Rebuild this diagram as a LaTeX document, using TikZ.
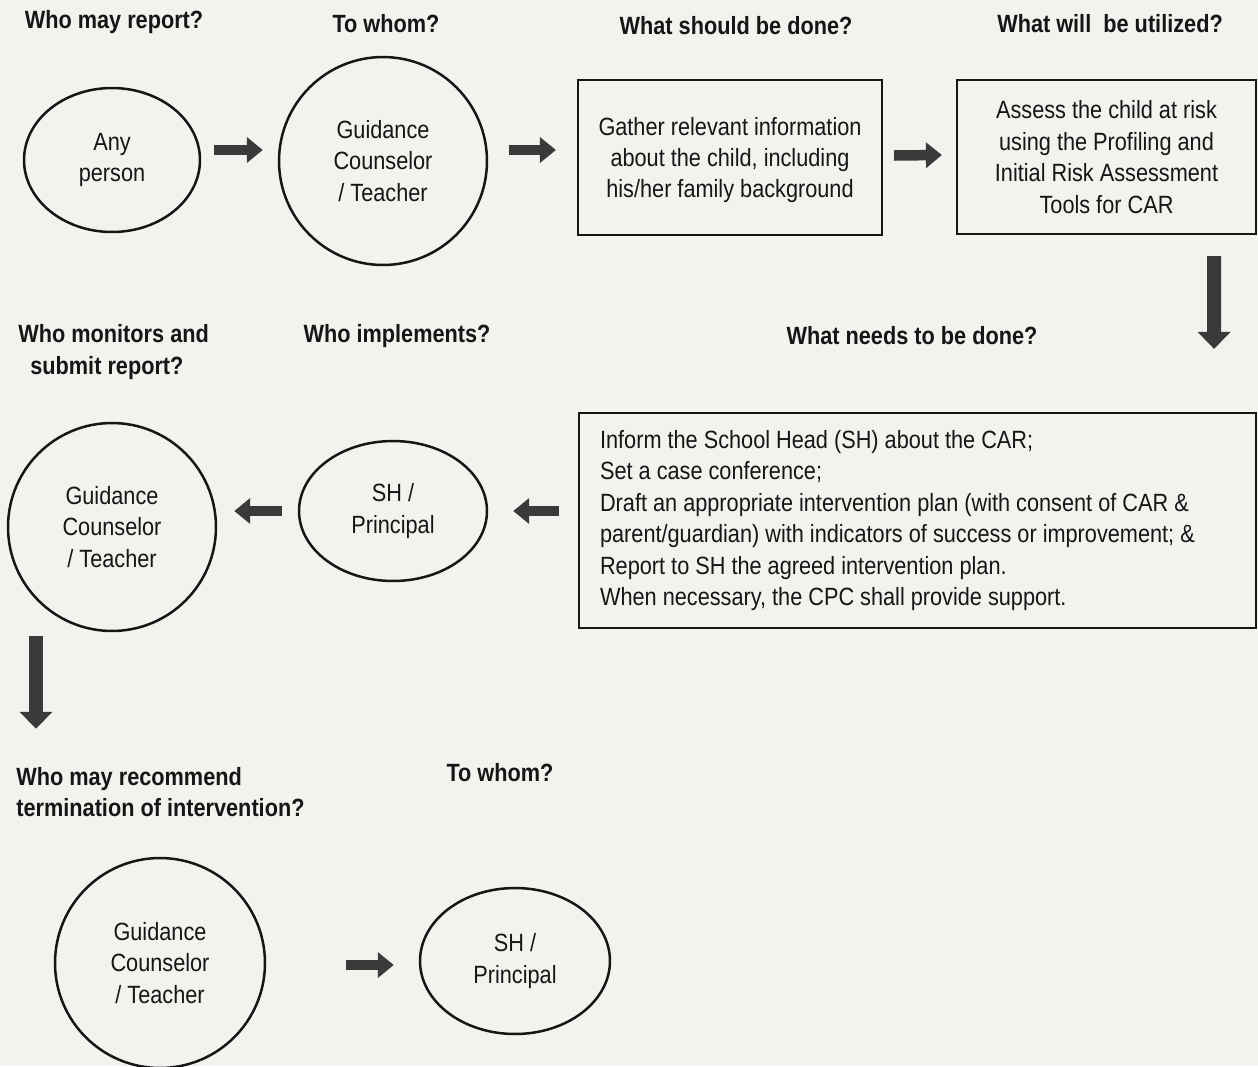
\documentclass[tikz,border=0pt]{standalone}
\usepackage{fontspec}
\setmainfont{Liberation Sans}[FakeStretch=0.87]
\usetikzlibrary{shapes.geometric,arrows.meta}
\definecolor{bgc}{RGB}{242,242,238}
\definecolor{inkc}{RGB}{22,22,22}
\definecolor{arrc}{RGB}{58,58,58}
\begin{document}
\begin{tikzpicture}[x=0.02cm,y=-0.02cm,
  txt/.style={font=\fontsize{14.2pt}{17.9pt}\selectfont, text=inkc, align=center},
  hdr/.style={font=\bfseries\fontsize{14.2pt}{17.9pt}\selectfont, text=inkc, inner sep=0pt},
  circ/.style={txt, circle, draw=inkc, line width=0.05cm, minimum size=4.16cm},
  ell/.style={txt, ellipse, draw=inkc, line width=0.05cm},
  bx/.style={txt, rectangle, draw=inkc, line width=0.045cm},
  blk/.style={draw=arrc, line width=0.21cm, -{Triangle[length=0.32cm,width=0.5cm]}},
  blkv/.style={draw=arrc, line width=0.28cm, -{Triangle[length=0.34cm,width=0.64cm]}}]
\fill[bgc] (0,0) rectangle (1258,1066);
\useasboundingbox (0,0) rectangle (1258,1066);

% headers
\node[hdr] (h1) at (114,22) {Who may report?};
\node[hdr] (h2) at (386,24) {To whom?};
\node[hdr] (h3) at (736,26) {What should be done?};
\node[hdr] (h4) at (1110,24) {What will\ \ be utilized?};
\node[hdr, align=left, anchor=west] (h5) at (18,352) {Who monitors and\\\hspace{0.24cm}submit report?};
\node[hdr] (h6) at (397,336) {Who implements?};
\node[hdr] (h7) at (912,336) {What needs to be done?};
\node[hdr, align=left, anchor=west] (h8) at (16,792) {Who may recommend\\termination of intervention?};
\node[hdr] (h9) at (500,773) {To whom?};

% row 1
\node[ell, minimum width=3.52cm, minimum height=2.88cm] (anyp) at (112,160) {Any\\person};
\node[circ] (gc1) at (383,161) {Guidance\\Counselor\\/ Teacher};
\node[bx, minimum width=6.08cm, minimum height=3.1cm, text depth=0pt] (gather) at (730,157.5)
  {Gather relevant information\\about the child, including\\his/her family background};
\node[bx, minimum width=5.98cm, minimum height=3.08cm] (assess) at (1106.5,157)
  {Assess the child at risk\\using the Profiling and\\Initial Risk Assessment\\Tools for CAR};

% row 2
\node[bx, align=flush left, text width=12.7cm, inner xsep=0.42cm, minimum height=4.3cm] (big) at (917.5,520.5)
  {Inform the School Head (SH) about the CAR;\\
   Set a case conference;\\
   Draft an appropriate intervention plan (with consent of CAR \&\\
   parent/guardian) with indicators of success or improvement; \&\\
   Report to SH the agreed intervention plan.\\
   When necessary, the CPC shall provide support.};
\node[ell, minimum width=3.76cm, minimum height=2.8cm] (sh1) at (393,511) {SH /\\Principal};
\node[circ] (gc2) at (112,527) {Guidance\\Counselor\\/ Teacher};

% row 3
\node[circ, minimum size=4.2cm] (gc3) at (160,963) {Guidance\\Counselor\\/ Teacher};
\node[ell, minimum width=3.8cm, minimum height=2.92cm] (sh2) at (515,961) {SH /\\Principal};

% arrows
\draw[blk] ([shift={(13,-10)}]anyp.east) -- ([shift={(-15,-11)}]gc1.west);
\draw[blk] ([shift={(21,-11)}]gc1.east) -- ([shift={(-21,-7.5)}]gather.west);
\draw[blk] ([shift={(11,-2)}]gather.east) -- ([shift={(-14,-2)}]assess.west);
\draw[blkv] ([shift={(-43,21)}]assess.south east) -- ([shift={(-43,-63)}]big.north east);
\draw[blk] ([shift={(-19,-9.5)}]big.west) -- ([shift={(25,0)}]sh1.east);
\draw[blk] ([shift={(-16,0)}]sh1.west) -- ([shift={(17,-16)}]gc2.east);
\draw[blkv] ([shift={(-76,4)}]gc2.south) -- ([shift={(-124,-128)}]gc3.north);
\draw[blk] ([shift={(80,2)}]gc3.east) -- ([shift={(-25,4)}]sh2.west);
\end{tikzpicture}
\end{document}
